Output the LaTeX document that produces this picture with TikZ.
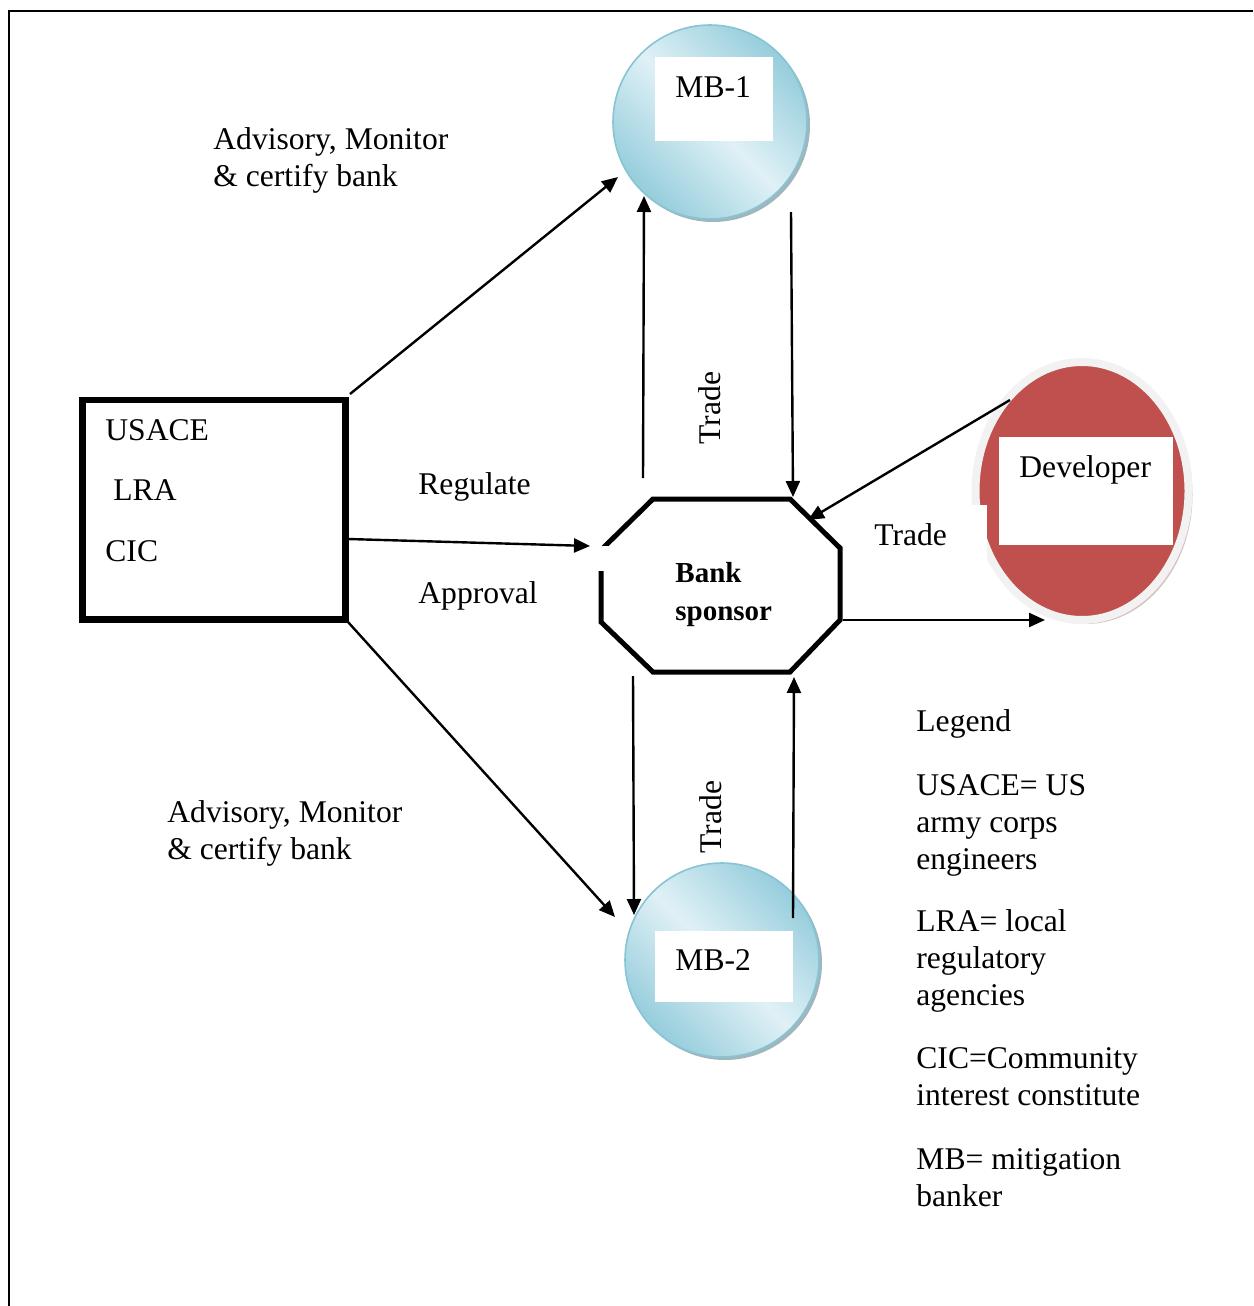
\documentclass[tikz,border=0pt]{standalone}
\usepackage{fontspec}
\setmainfont{Liberation Serif}
\usetikzlibrary{arrows.meta,shapes.geometric,shadows}
\definecolor{mbedge}{RGB}{150,205,220}
\definecolor{mblight}{RGB}{224,241,246}
\definecolor{mbline}{RGB}{135,196,212}
\definecolor{mbshadow}{RGB}{120,150,160}
\definecolor{devred}{RGB}{192,80,77}
\definecolor{devring}{RGB}{242,242,242}
\definecolor{devshadow}{RGB}{175,130,130}
\begin{document}
\begin{tikzpicture}[x=0.5pt,y=-0.5pt,
  lbl/.style={font=\fontsize{15.8}{18.5}\selectfont, inner sep=0pt, anchor=base west},
  bold/.style={font=\fontsize{14.5}{19.5}\selectfont\bfseries, inner sep=0pt, anchor=base west},
  arr/.style={line width=1.2pt, -{Triangle[length=8pt,width=7pt]}},
  ball/.style={circle, minimum size=97pt, inner sep=0pt, draw=mbline, line width=0.8pt,
    top color=mbedge, bottom color=mbedge, middle color=mblight, shading angle=-45,
    drop shadow={shadow xshift=1.5pt, shadow yshift=-1.5pt, fill=mbshadow, opacity=0.7}},
  card/.style={rectangle, fill=white, inner sep=0pt}
]
\useasboundingbox (0,0) rectangle (1253,1306);

% page frame (top and left edges)
\coordinate (fr1) at (1253,11);
\coordinate (fr2) at (9,11);
\coordinate (fr3) at (9,1306);
\draw[line width=1.2pt] (fr1) -- (fr2) -- (fr3);

% mitigation bankers
\node[ball] (mb1) at (710,122) {};
\node[card, minimum width=59pt, minimum height=42pt] (mb1card) at (714,99) {};
\node[lbl] (mb1txt) at (675,97) {MB-1};

\node[ball] (mb2) at (722,960) {};
\node[card, minimum width=69pt, minimum height=35.5pt] (mb2card) at (724,966.5) {};
\node[lbl] (mb2txt) at (675,970) {MB-2};

% developer
\node[ellipse, minimum width=106.5pt, minimum height=129pt, inner sep=0pt,
  draw=devring, line width=4pt, fill=devred,
  drop shadow={shadow xshift=2pt, shadow yshift=-2pt, fill=devshadow}] (dev) at (1082,491) {};
\node[card, minimum width=11pt, minimum height=40pt] (devnotch) at (976,545) {};
\node[card, minimum width=87pt, minimum height=54pt] (devcard) at (1086,491) {};
\node[lbl] (devtxt) at (1019,477) {Developer};

% regulators box
\node[rectangle, draw, line width=3.2pt, minimum width=131.5pt, minimum height=109.75pt,
  inner sep=0pt] (reg) at (214,509.75) {};
\node[lbl] (usace) at (105,440) {USACE};
\node[lbl] (lra) at (113,500) {LRA};
\node[lbl] (cic) at (105,561) {CIC};

% bank sponsor octagon
\coordinate (o1) at (653,499);
\coordinate (o2) at (790,499);
\coordinate (o3) at (840,548);
\coordinate (o4) at (840,620);
\coordinate (o5) at (790,672);
\coordinate (o6) at (653,672);
\coordinate (o7) at (601,622);
\coordinate (o8) at (601,550);
\draw[line width=2.5pt, line join=miter] (o1) -- (o2) -- (o3) -- (o4) -- (o5) -- (o6) -- (o7) -- (o8) -- cycle;
\node[card, minimum width=10pt, minimum height=12.5pt] (gap) at (603.5,558.5) {};
\node[bold] (bank1) at (675,582) {Bank};
\node[bold] (bank2) at (675,620) {sponsor};

% connector end points
\coordinate (a1s) at (350,394);  \coordinate (a1e) at (618,177);
\coordinate (a2s) at (348,539);  \coordinate (a2e) at (590,546);
\coordinate (a3s) at (348,622);  \coordinate (a3e) at (615,917);
\coordinate (a4s) at (643,478);  \coordinate (a4e) at (644,196);
\coordinate (a5s) at (791,212);  \coordinate (a5e) at (793,497);
\coordinate (a6s) at (1010,400); \coordinate (a6e) at (808,520);
\coordinate (a7s) at (843,620);  \coordinate (a7e) at (1045,620);
\coordinate (a8s) at (633,676);  \coordinate (a8e) at (634,915);
\coordinate (a9s) at (793,918);  \coordinate (a9e) at (794,677);

\draw[arr] (a1s) -- (a1e);
\draw[arr] (a2s) -- (a2e);
\draw[arr] (a3s) -- (a3e);
\draw[arr] (a4s) -- (a4e);
\draw[arr] (a5s) -- (a5e);
\draw[arr] (a6s) -- (a6e);
\draw[arr] (a7s) -- (a7e);
\draw[arr] (a8s) -- (a8e);
\draw[arr] (a9s) -- (a9e);

% connector labels
\node[lbl] (adv1a) at (213,149) {Advisory, Monitor};
\node[lbl] (adv1b) at (213,186) {\& certify bank};
\node[lbl] (regl) at (418,494) {Regulate};
\node[lbl] (appr) at (418,603) {Approval};
\node[lbl] (adv2a) at (167,822) {Advisory, Monitor};
\node[lbl] (adv2b) at (167,859) {\& certify bank};
\node[lbl, anchor=center, rotate=90] (trade1) at (710,408) {Trade};
\node[lbl, anchor=center, rotate=90] (trade2) at (711,817) {Trade};
\node[lbl] (trade3) at (874,545) {Trade};

% legend
\node[lbl] (leg) at (916,731) {Legend};
\node[lbl, align=left, anchor=north west] (leg1) at (916,774) {USACE= US\\army corps\\engineers};
\node[lbl, align=left, anchor=north west] (leg2) at (916,909) {LRA= local\\regulatory\\agencies};
\node[lbl, align=left, anchor=north west] (leg3) at (916,1047) {CIC=Community\\interest constitute};
\node[lbl, align=left, anchor=north west] (leg4) at (916,1148) {MB= mitigation\\banker};
\end{tikzpicture}
\end{document}
